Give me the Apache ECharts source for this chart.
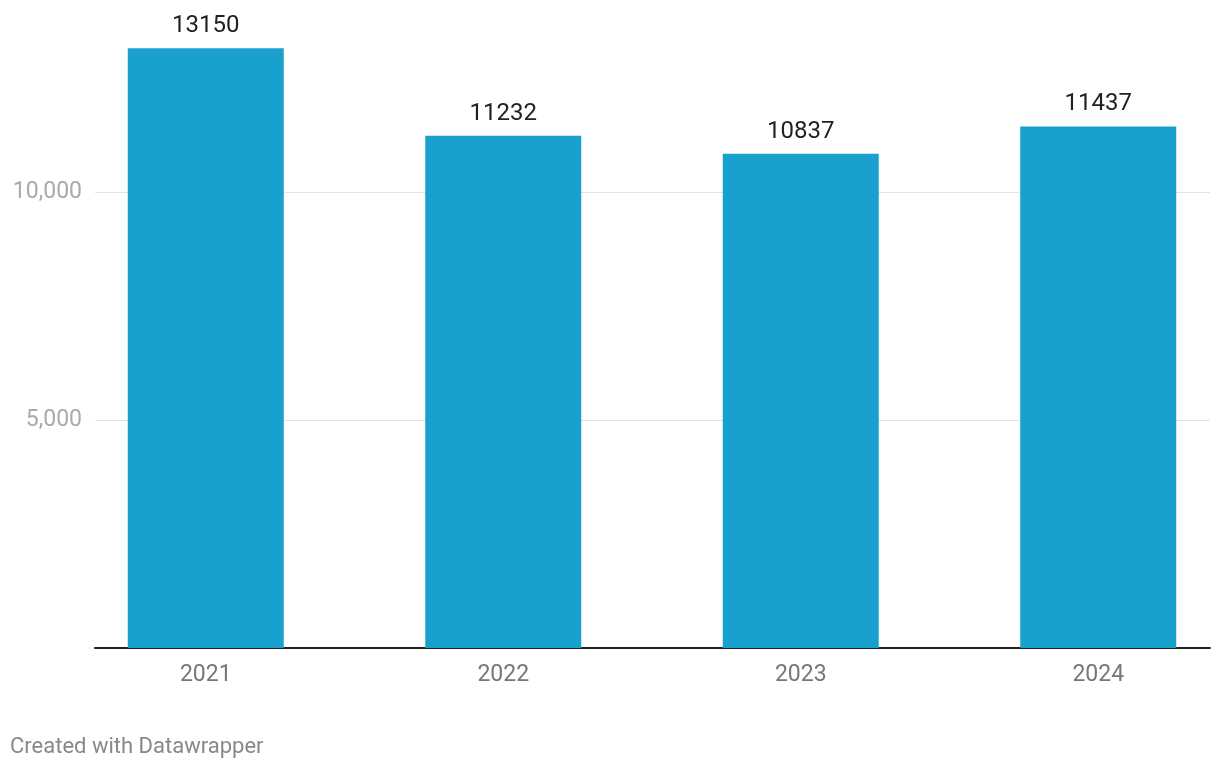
<!DOCTYPE html>
<html>
<head>
<meta charset="utf-8">
<script src="https://cdn.jsdelivr.net/npm/echarts@6/dist/echarts.min.js"></script>
<style>
html,body{margin:0;padding:0;background:#fff;}
#chart{width:1220px;height:770px;}
</style>
</head>
<body>
<div id="chart"></div>
<script>
const categories = ['2021', '2022', '2023', '2024'];
const values = [13150, 11232, 10837, 11437];
const yTicks = [0, 5000, 10000];

const chart = echarts.init(document.getElementById('chart'));
const FONT = 'Roboto';
chart.setOption({
  animation: false,
  textStyle: { fontFamily: FONT },
  grid: [
    { left: 95, right: 10, top: -36, bottom: 122, outerBoundsMode: 'none' },
    { left: 57, right: -27, top: -36, bottom: 122, outerBoundsMode: 'none' }
  ],
  xAxis: [
    { gridIndex: 0, type: 'value', min: 0, max: 1,
      axisLine: { show: true, onZero: false, lineStyle: { color: '#222', width: 2 } },
      axisTick: { show: false }, axisLabel: { show: false }, splitLine: { show: false } },
    { gridIndex: 1, type: 'category', data: categories,
      axisLine: { show: false }, axisTick: { show: false }, splitLine: { show: false },
      axisLabel: { color: '#777', fontSize: 23, fontFamily: FONT, margin: 16 } }
  ],
  yAxis: [
    { gridIndex: 0, type: 'value', min: 0, max: 15000, interval: 5000,
      axisLine: { show: false }, axisTick: { show: false },
      axisLabel: { color: '#aaa', fontSize: 23, fontFamily: FONT, margin: 13,
        formatter: v => (v === 0 || v === 15000) ? '' : v.toLocaleString('en-US') },
      splitLine: { lineStyle: { color: '#e3e3e3', width: 1 } } },
    { gridIndex: 1, type: 'value', min: 0, max: 15000, show: false, splitLine: { show: false } }
  ],
  series: [{
    type: 'bar',
    xAxisIndex: 1, yAxisIndex: 1,
    data: values,
    barWidth: 156,
    itemStyle: { color: '#18a1cd' },
    label: { show: true, position: 'top', distance: 10, color: '#222', fontSize: 24, fontFamily: FONT }
  }],
  graphic: [{
    type: 'text', left: 10, top: 736,
    style: { text: 'Created with Datawrapper', fill: '#888', font: '22px Roboto' }
  }]
});
</script>
</body>
</html>
